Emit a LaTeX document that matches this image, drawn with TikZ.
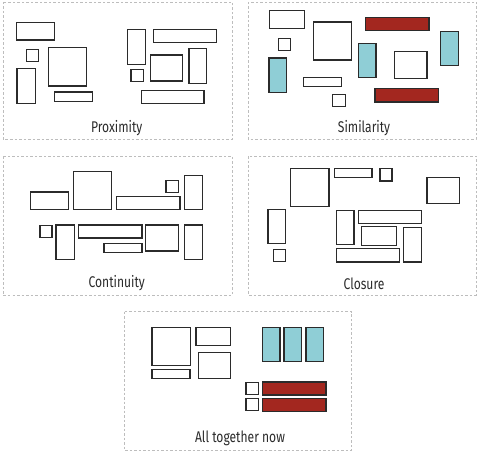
\documentclass[tikz,border=0pt]{standalone}
\usepackage{fontspec}
\setmainfont[FakeStretch=0.78]{Fira Sans}
\definecolor{cyanfill}{HTML}{8FCED6}
\definecolor{redfill}{HTML}{A3271F}
\definecolor{boxline}{HTML}{2B2B2B}
\definecolor{panelline}{HTML}{BDBDBD}
\tikzset{
  box/.style={draw=boxline, line width=1.3pt},
  cbox/.style={box, fill=cyanfill},
  rbox/.style={box, fill=redfill},
  panel/.style={draw=panelline, line width=0.8pt, dash pattern=on 2.5pt off 2pt},
  caption/.style={font=\fontsize{15.5}{17}\selectfont, text=boxline, inner sep=0pt}
}
\begin{document}
\begin{tikzpicture}[x=1pt,y=-1pt]
\useasboundingbox (0,0) rectangle (484,452);
% Panel 1: Proximity
\draw[panel] (3,2) rectangle (232,139);
\draw[box] (16.7,22.7) rectangle (54.3,40);
\draw[box] (26.3,49.7) rectangle (38.3,61.7);
\draw[box] (48.3,47.7) rectangle (86.7,86);
\draw[box] (17,68.7) rectangle (35.7,103.7);
\draw[box] (54.7,92) rectangle (92.3,101.7);
\draw[box] (127.7,29.3) rectangle (145.7,64.3);
\draw[box] (153.3,29.3) rectangle (216.3,42.7);
\draw[box] (150.3,55) rectangle (182.3,81);
\draw[box] (189,48.7) rectangle (206.7,83.3);
\draw[box] (131,69.7) rectangle (143.3,81.7);
\draw[box] (141.3,90.3) rectangle (204,103.3);
\node[caption] (t1) at (116.7,128) {Proximity};
% Panel 2: Similarity
\draw[panel] (248,2) rectangle (476,139);
\draw[box] (269.3,10.7) rectangle (304.7,28.7);
\draw[box] (278.3,38.7) rectangle (290.7,50.7);
\draw[box] (313.3,22) rectangle (351.7,60);
\draw[rbox] (365.3,17.3) rectangle (429,30.3);
\draw[cbox] (440.7,31.7) rectangle (458.3,65.7);
\draw[cbox] (358.3,43.3) rectangle (376,77.7);
\draw[box] (394.7,51.7) rectangle (427,78.3);
\draw[cbox] (269,58) rectangle (286.7,92.3);
\draw[box] (303.7,77.3) rectangle (341.3,86.7);
\draw[box] (332.7,94.3) rectangle (345.3,106.3);
\draw[rbox] (375,88.7) rectangle (438.7,102);
\node[caption] (t2) at (364,128) {Similarity};
% Panel 3: Continuity
\draw[panel] (3,156) rectangle (232,295);
\draw[box] (30.7,192) rectangle (68.3,209.7);
\draw[box] (73.3,171.3) rectangle (111.7,209.7);
\draw[box] (116.7,196.7) rectangle (180,209.7);
\draw[box] (166,180.7) rectangle (178.3,192.7);
\draw[box] (184.7,175.3) rectangle (202.3,209.7);
\draw[box] (40,225.3) rectangle (52,237.3);
\draw[box] (56,225) rectangle (74.3,259.7);
\draw[box] (78.3,225) rectangle (142,238);
\draw[box] (104,243.3) rectangle (142,252.7);
\draw[box] (145.7,225) rectangle (178.3,251);
\draw[box] (184.7,225) rectangle (202.3,259.3);
\node[caption] (t3) at (116.7,283.3) {Continuity};
% Panel 4: Closure
\draw[panel] (248.7,156) rectangle (476,295);
\draw[box] (290.7,168.3) rectangle (329,206.7);
\draw[box] (334.3,168.3) rectangle (372,177.7);
\draw[box] (380,168.7) rectangle (392,181);
\draw[box] (427,177.7) rectangle (459.3,203.7);
\draw[box] (268,209.3) rectangle (285.7,243.7);
\draw[box] (273.3,249.3) rectangle (285.7,261.7);
\draw[box] (336.3,210.3) rectangle (354,244.7);
\draw[box] (358.7,210.3) rectangle (421.3,223.3);
\draw[box] (361.7,226.7) rectangle (396.7,245.3);
\draw[box] (403.3,227.7) rectangle (421.7,262);
\draw[box] (336.3,248.7) rectangle (399.3,262);
\node[caption] (t4) at (364,283.3) {Closure};
% Panel 5: All together now
\draw[panel] (124,311.7) rectangle (351.7,450);
\draw[box] (152,327.3) rectangle (190.7,365.7);
\draw[box] (196,327.3) rectangle (230.7,345.7);
\draw[box] (198.3,352.7) rectangle (230.7,378.7);
\draw[box] (152,369.7) rectangle (190,378.7);
\draw[cbox] (262.3,327.3) rectangle (280,361.3);
\draw[cbox] (284,327.3) rectangle (301.7,361.3);
\draw[cbox] (306,327.3) rectangle (323.7,361.3);
\draw[box] (246,382.7) rectangle (258.3,394.3);
\draw[box] (246,398.3) rectangle (258.3,410.3);
\draw[rbox] (262.7,382) rectangle (326,395);
\draw[rbox] (262.7,398.3) rectangle (326,411.3);
\node[caption] (t5) at (240,438.3) {All together now};
\end{tikzpicture}
\end{document}
